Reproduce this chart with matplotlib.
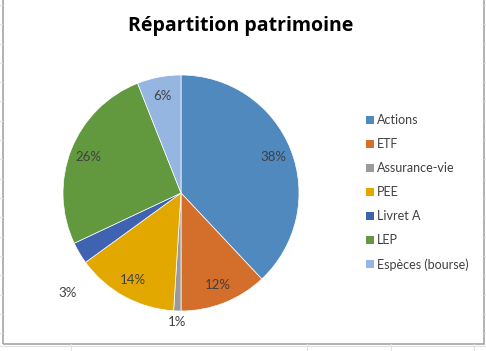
#! /usr/bin/env python3
# -*- coding: utf-8 -*-
import numpy as np
import matplotlib
matplotlib.use('Agg')
import matplotlib.pyplot as plt
from matplotlib.patches import Rectangle, Patch
from matplotlib.lines import Line2D

Title = 'Répartition patrimoine'
Categories = ['Actions', 'ETF', 'Assurance-vie', 'PEE', 'Livret A', 'LEP', 'Espèces (bourse)']
Shares = [38, 12, 1, 14, 3, 26, 6]
Colors = ['#4f89be', '#d46e2b', '#9a9a9a', '#e3a800', '#3f63b0', '#62993e', '#95b6e0']

plt.rcParams['font.family'] = ['Lato', 'DejaVu Sans']
Text_color = '#404040'


def plotPie():
    fig = plt.figure(figsize=(4.86, 3.51), dpi=100)
    W, H = 486., 351.
    cx, cy, r = 181., 158., 118.
    half = 150.
    ax = fig.add_axes([(cx - half) / W, (cy - half) / H, 2 * half / W, 2 * half / H])

    wedges, texts, autotexts = ax.pie(Shares, colors=Colors, startangle=90, counterclock=False,
                                      autopct='%1.0f%%', pctdistance=0.84,
                                      wedgeprops=dict(linewidth=0.5, edgecolor='white'),
                                      textprops=dict(fontsize=9.5, color=Text_color))
    # outside labels for the thin slices (Excel best fit)
    outside = {2: (1.09, 0.0), 4: (1.28, 11.0)}
    for i, (dist, shift) in outside.items():
        w = wedges[i]
        ang = np.deg2rad((w.theta1 + w.theta2) / 2. + shift)
        autotexts[i].set_position((dist * np.cos(ang), dist * np.sin(ang)))
    lim = half / r
    ax.set_xlim(-lim, lim)
    ax.set_ylim(-lim, lim)
    ax.set_aspect('equal')
    ax.axis('off')

    fig.text(241 / W, 1 - 26 / H, Title, ha='center', va='center', family='Open Sans',
             fontsize=14, fontweight='bold', color='#000000')

    handles = [Patch(facecolor=c, edgecolor='none') for c in Colors]
    fig.legend(handles, Categories, loc='upper left', bbox_to_anchor=(366 / W, 1 - 114 / H),
               frameon=False, fontsize=9, labelcolor=Text_color,
               handlelength=0.6, handleheight=0.6, handletextpad=0.3, labelspacing=0.96,
               borderpad=0.0, borderaxespad=0.0)

    # spreadsheet cells around the chart
    for y in np.arange(5, 351, 19.3):
        fig.add_artist(Line2D([484 / W, 1], [1 - y / H, 1 - y / H], color='#e2e2e2', lw=0.8))
        fig.add_artist(Line2D([0, 2 / W], [1 - y / H, 1 - y / H], color='#e2e2e2', lw=0.8))
    fig.add_artist(Line2D([0, 1], [1 - 346 / H, 1 - 346 / H], color='#e2e2e2', lw=0.8))
    for x in [71, 307, 391, 474]:
        fig.add_artist(Line2D([x / W, x / W], [0, 1 - 344 / H], color='#e2e2e2', lw=0.8))
    fig.add_artist(Rectangle((2.5 / W, 1 - 343.5 / H), 481 / W, 360 / H, transform=fig.transFigure,
                             fill=False, edgecolor='#a6a6a6', lw=1.2))

    fig.savefig('out.png', dpi=100)
    return


def main():
    plotPie()


if __name__ == '__main__':
    main()
